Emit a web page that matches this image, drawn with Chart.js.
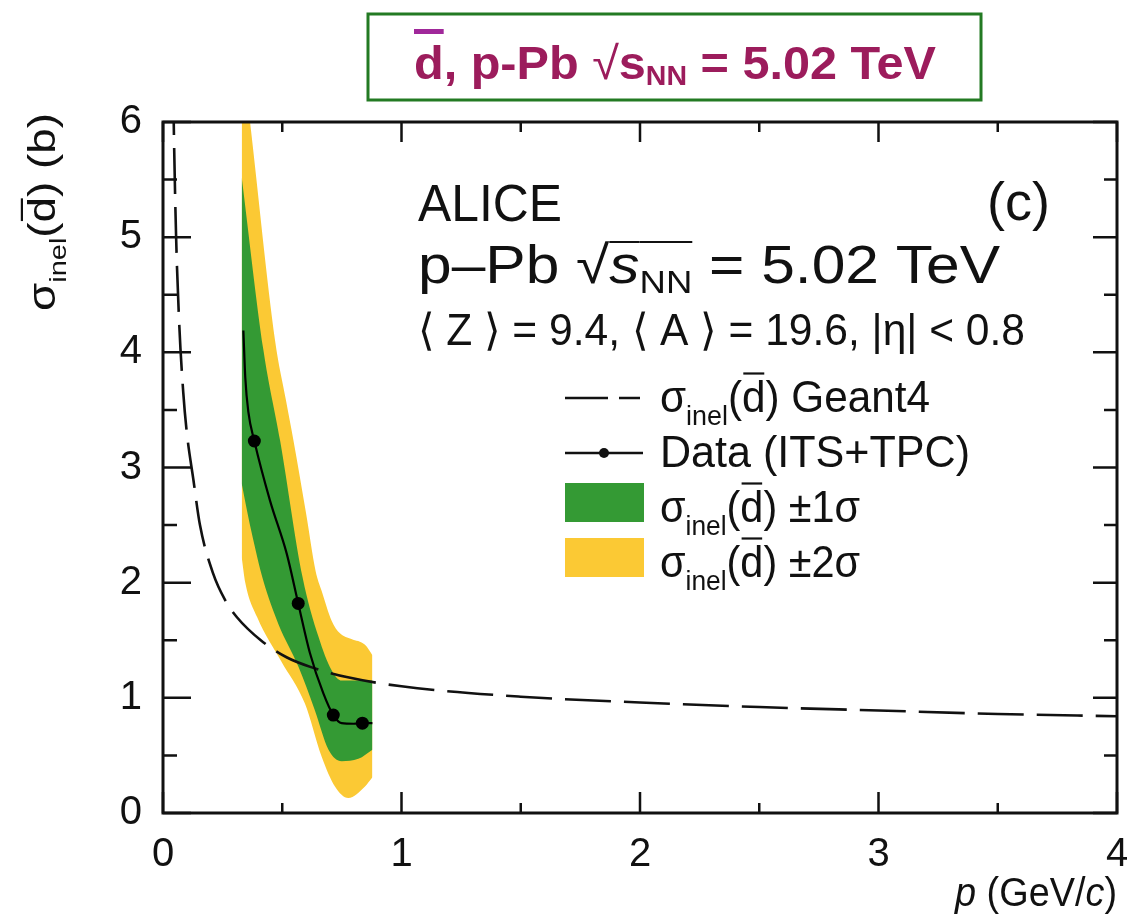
<!DOCTYPE html>
<html lang="en">
<head>
  <meta charset="UTF-8">
  <title>Antideuteron inelastic cross section, p-Pb 5.02 TeV</title>
  <script src="https://cdn.jsdelivr.net/npm/chart.js"></script>
  <style>
    html, body { margin: 0; padding: 0; background: #fff; }
    #wrap { width: 1127px; height: 923px; }
  </style>
</head>
<body>
  <div id="wrap"><canvas id="xsChart" width="1127" height="923"></canvas></div>

  <script>
    // axis ticks: momentum p (GeV/c) and cross section (b)
    const pMajor = [0, 1, 2, 3, 4];
    const pMinor = [0.5, 1.5, 2.5, 3.5];
    const sigmaMajor = [0, 1, 2, 3, 4, 5, 6];
    const sigmaMinor = [0.5, 1.5, 2.5, 3.5, 4.5, 5.5];

    // measured points, Data (ITS+TPC)
    const dataP = [0.383, 0.567, 0.714, 0.836];
    const dataSigma = [3.23, 1.82, 0.85, 0.78];

    // central curve through the data
    const curveP = [0.337, 0.345, 0.358, 0.383, 0.449, 0.519, 0.567, 0.616, 0.672, 0.714, 0.749, 0.80, 0.836, 0.878];
    const curveSigma = [4.19, 3.78, 3.48, 3.23, 2.71, 2.25, 1.82, 1.39, 1.04, 0.85, 0.78, 0.775, 0.78, 0.78];

    // Geant4 parametrisation
    const geantP = [0.04, 0.045, 0.055, 0.068, 0.085, 0.10, 0.127, 0.155, 0.21, 0.26, 0.31, 0.41, 0.52, 0.63, 0.77, 1.0, 1.5, 2.0, 2.5, 3.0, 3.5, 4.0];
    const geantSigma = [6.8, 6.0, 5.0, 4.25, 3.65, 3.3, 2.9, 2.5, 2.08, 1.85, 1.70, 1.50, 1.35, 1.26, 1.18, 1.10, 1.01, 0.96, 0.92, 0.89, 0.86, 0.84];

    // +-1 sigma band edges
    const band1UpP = [0.33, 0.421, 0.491, 0.585, 0.652, 0.707, 0.749, 0.80, 0.878];
    const band1Up = [5.52, 4.02, 3.235, 2.05, 1.53, 1.24, 1.15, 1.15, 1.15];
    const band1LoP = [0.33, 0.345, 0.37, 0.42, 0.484, 0.568, 0.637, 0.694, 0.749, 0.819, 0.878];
    const band1Lo = [2.86, 2.7, 2.45, 2.02, 1.64, 1.27, 0.89, 0.55, 0.45, 0.47, 0.55];

    // +-2 sigma band edges
    const band2UpP = [0.33, 0.365, 0.47, 0.516, 0.547, 0.60, 0.64, 0.665, 0.707, 0.742, 0.79, 0.847, 0.878];
    const band2Up = [6.62, 6.0, 4.10, 3.58, 3.235, 2.6, 2.1, 1.93, 1.67, 1.56, 1.51, 1.46, 1.37];
    const band2LoP = [0.33, 0.345, 0.395, 0.495, 0.595, 0.665, 0.721, 0.777, 0.847, 0.878];
    const band2Lo = [2.22, 2.0, 1.70, 1.32, 0.95, 0.49, 0.23, 0.13, 0.23, 0.31];

    const GREEN = '#349a34';
    const YELLOW = '#fbc934';
    const INK = '#111';
    const TICK_FONT = '"Liberation Sans Narrow", "Liberation Sans", Arial, sans-serif';

    const pts = (xs, ys) => xs.map((x, i) => ({ x: x, y: ys[i] }));
    const F = (size, style) => (style || '') + ' ' + size + 'px "Liberation Sans", Arial, sans-serif';

    // draws a row of text pieces (sizes, italics, sub/superscript shifts, overbars)
    function drawRuns(ctx, x, y, runs, fit) {
      let total = 0;
      const widths = runs.map(r => {
        ctx.font = F(r.s, r.st);
        const w = ctx.measureText(r.t).width;
        total += w;
        return w;
      });
      const sx = fit ? fit / total : 1;
      const base = ctx.fillStyle;
      ctx.save();
      ctx.translate(x, y);
      ctx.scale(sx, 1);
      let cx = 0;
      runs.forEach((r, i) => {
        ctx.font = F(r.s, r.st);
        ctx.fillStyle = r.c || base;
        ctx.fillText(r.t, cx, r.dy || 0);
        if (r.over !== undefined) {
          const ox = r.ox || 0;
          ctx.fillStyle = r.oc || r.c || base;
          ctx.fillRect(cx + ox, r.over, widths[i] - 2 * ox, r.lw || 2);
        }
        cx += widths[i];
      });
      ctx.restore();
      return total * sx;
    }

    // sigma_inel(dbar)
    function sigmaInel(size) {
      return [
        { t: 'σ', s: size },
        { t: 'inel', s: Math.round(size * 0.64), dy: size * 0.3 },
        { t: '(', s: size },
        { t: 'd', s: size, over: -size * 0.9, ox: size * 0.03, lw: 2.2 },
        { t: ')', s: size }
      ];
    }

    // frame with inward ticks on all four sides
    const frameTicks = {
      id: 'frameTicks',
      afterDatasetsDraw(chart) {
        const { ctx, chartArea: a, scales: { x, y } } = chart;
        ctx.save();
        ctx.strokeStyle = INK;
        ctx.lineWidth = 2.5;
        ctx.beginPath();
        const seg = (x1, y1, x2, y2) => { ctx.moveTo(x1, y1); ctx.lineTo(x2, y2); };
        pMajor.forEach(v => {
          const px = x.getPixelForValue(v);
          seg(px, a.bottom, px, a.bottom - 21);
          seg(px, a.top, px, a.top + 20);
        });
        pMinor.forEach(v => {
          const px = x.getPixelForValue(v);
          seg(px, a.bottom, px, a.bottom - 10);
          seg(px, a.top, px, a.top + 10);
        });
        sigmaMajor.forEach(v => {
          const py = y.getPixelForValue(v);
          seg(a.left, py, a.left + 28, py);
          seg(a.right, py, a.right - 24, py);
        });
        sigmaMinor.forEach(v => {
          const py = y.getPixelForValue(v);
          seg(a.left, py, a.left + 14, py);
          seg(a.right, py, a.right - 13, py);
        });
        ctx.stroke();
        ctx.lineWidth = 3;
        ctx.strokeRect(a.left, a.top, a.right - a.left, a.bottom - a.top);
        ctx.restore();
      }
    };

    // header box, labels, legend and axis titles
    const annotations = {
      id: 'annotations',
      afterDraw(chart) {
        const ctx = chart.ctx;
        ctx.save();
        ctx.textBaseline = 'alphabetic';
        ctx.textAlign = 'left';

        // header box
        ctx.strokeStyle = '#237a23';
        ctx.lineWidth = 3;
        ctx.strokeRect(368, 14, 613, 86);
        ctx.fillStyle = '#9c1c5c';
        drawRuns(ctx, 414, 79, [
          { t: 'd', s: 46, st: 'bold', over: -50, lw: 5, oc: '#a0289a' },
          { t: ', p-Pb ', s: 46, st: 'bold' },
          { t: '√', s: 46 },
          { t: 's', s: 46, st: 'bold' },
          { t: 'NN', s: 27, st: 'bold', dy: 6 },
          { t: ' = 5.02 TeV', s: 46, st: 'bold' }
        ], 522);

        ctx.fillStyle = INK;
        // experiment label
        drawRuns(ctx, 418, 221, [{ t: 'ALICE', s: 51 }], 144);
        ctx.font = F(54);
        ctx.textAlign = 'right';
        ctx.fillText('(c)', 1050, 220);
        ctx.textAlign = 'left';

        ctx.font = F(53);
        const ra = ctx.measureText('√').actualBoundingBoxAscent;
        drawRuns(ctx, 418, 283, [
          { t: 'p–Pb ', s: 53 },
          { t: '√', s: 53 },
          { t: 's', s: 53, st: 'italic', over: -ra, lw: 2 },
          { t: 'NN', s: 32, dy: 10, over: -ra, lw: 2 },
          { t: ' = 5.02 TeV', s: 53 }
        ], 582);

        drawRuns(ctx, 418, 345, [{ t: '⟨ Z ⟩ = 9.4, ⟨ A ⟩ = 19.6, |η| < 0.8', s: 44 }], 607);

        // legend
        ctx.strokeStyle = INK;
        ctx.lineWidth = 2.6;
        ctx.beginPath();
        ctx.moveTo(565, 398); ctx.lineTo(608, 398);
        ctx.moveTo(619, 398); ctx.lineTo(640, 398);
        ctx.moveTo(565, 453); ctx.lineTo(643, 453);
        ctx.stroke();
        ctx.beginPath();
        ctx.arc(604, 453, 5, 0, Math.PI * 2);
        ctx.fill();
        ctx.fillStyle = GREEN;
        ctx.fillRect(565, 483, 79, 39);
        ctx.fillStyle = YELLOW;
        ctx.fillRect(565, 538, 79, 39);

        ctx.fillStyle = INK;
        drawRuns(ctx, 660, 412, sigmaInel(44).concat([{ t: ' Geant4', s: 44 }]), 270);
        drawRuns(ctx, 660, 467, [{ t: 'Data (ITS+TPC)', s: 44 }], 310);
        drawRuns(ctx, 660, 522, sigmaInel(44).concat([{ t: ' ±1σ', s: 44 }]), 200);
        drawRuns(ctx, 660, 577, sigmaInel(44).concat([{ t: ' ±2σ', s: 44 }]), 200);

        // axis titles
        ctx.save();
        ctx.translate(55, 311);
        ctx.rotate(-Math.PI / 2);
        drawRuns(ctx, 0, 0, sigmaInel(38).concat([{ t: ' (b)', s: 38 }]), 198);
        ctx.restore();

        drawRuns(ctx, 955, 906, [
          { t: 'p', s: 40, st: 'italic' },
          { t: ' (GeV/', s: 40 },
          { t: 'c', s: 40, st: 'italic' },
          { t: ')', s: 40 }
        ], 162);

        ctx.restore();
      }
    };

    const hidden = 'rgba(0,0,0,0)';
    const edge = { borderColor: hidden, borderWidth: 1, pointRadius: 0, cubicInterpolationMode: 'monotone' };

    new Chart(document.getElementById('xsChart'), {
      type: 'line',
      data: {
        datasets: [
          {
            label: 'Data (ITS+TPC)',
            data: pts(dataP, dataSigma),
            showLine: false,
            pointRadius: 6.5,
            pointBackgroundColor: '#000',
            pointBorderWidth: 0,
            order: 0
          },
          {
            label: 'Data curve',
            data: pts(curveP, curveSigma),
            borderColor: '#000',
            borderWidth: 2.2,
            pointRadius: 0,
            cubicInterpolationMode: 'monotone',
            order: 1
          },
          {
            label: 'Geant4',
            data: pts(geantP, geantSigma),
            borderColor: INK,
            borderWidth: 2.6,
            borderDash: [46, 13],
            pointRadius: 0,
            cubicInterpolationMode: 'monotone',
            order: 2
          },
          Object.assign({ label: '+1 sigma', data: pts(band1UpP, band1Up), fill: '+1', backgroundColor: GREEN, order: 3 }, edge),
          Object.assign({ label: '-1 sigma', data: pts(band1LoP, band1Lo), fill: false, order: 4 }, edge),
          Object.assign({ label: '+2 sigma', data: pts(band2UpP, band2Up), fill: '+1', backgroundColor: YELLOW, order: 5 }, edge),
          Object.assign({ label: '-2 sigma', data: pts(band2LoP, band2Lo), fill: false, order: 6 }, edge)
        ]
      },
      options: {
        responsive: false,
        animation: false,
        devicePixelRatio: 1,
        events: [],
        layout: { padding: { left: 0, top: 122, right: 10, bottom: 0 } },
        plugins: { legend: { display: false }, tooltip: { enabled: false } },
        scales: {
          x: {
            type: 'linear',
            min: 0,
            max: 4,
            grid: { display: false },
            border: { display: false },
            ticks: { stepSize: 1, padding: 10, color: INK, font: { size: 40, family: TICK_FONT } },
            afterFit(scale) {
              scale.height = 110;
              // let the last label hang over the right margin
              scale.paddingRight = 0;
              scale.paddingLeft = 0;
            }
          },
          y: {
            min: 0,
            max: 6,
            grid: { display: false },
            border: { display: false },
            ticks: { stepSize: 1, padding: 13, color: INK, font: { size: 40, family: TICK_FONT } },
            afterFit(scale) { scale.width = 163; }
          }
        }
      },
      plugins: [frameTicks, annotations]
    });
  </script>
</body>
</html>
